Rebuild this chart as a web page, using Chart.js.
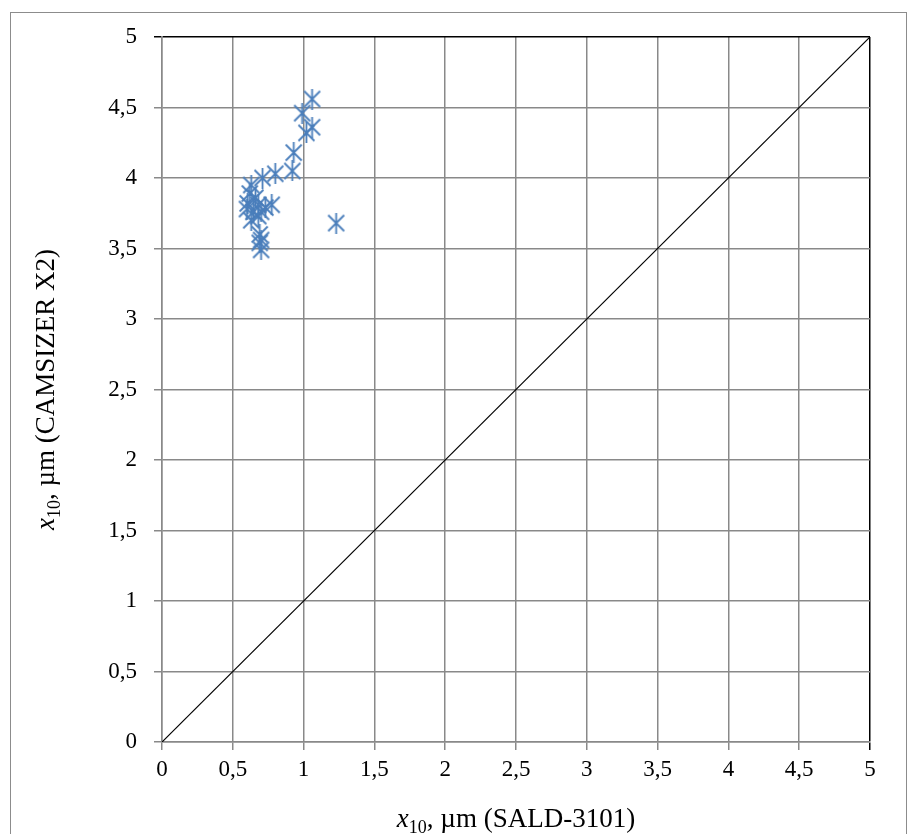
<!DOCTYPE html>
<html>
<head>
<meta charset="utf-8">
<script src="https://cdn.jsdelivr.net/npm/chart.js@4.4.1/dist/chart.umd.min.js"></script>
<style>
    body { margin: 0; background: #fff; overflow: hidden; }
    #frame { position: absolute; left: 10px; top: 12px; width: 895px; height: 900px; border: 1px solid #8c8c8c; }
    #bar { position: absolute; left: 0; top: 0; }
</style>
</head>
<body>
<div id="frame"></div>
<canvas id="bar" width="908" height="834"></canvas>
<script>
// x10 SALD-3101 vs x10 CAMSIZER X2
var xSald = [1.06, 0.99, 1.06, 1.02, 0.93, 0.92, 0.80, 0.71, 0.63, 0.62, 0.66, 0.605, 0.68, 0.60, 0.645, 0.70, 0.63, 0.68, 0.775, 0.73, 1.23, 0.69, 0.70, 0.69, 0.70];
var yCamsizer = [4.56, 4.46, 4.36, 4.32, 4.18, 4.05, 4.03, 4.00, 3.95, 3.89, 3.86, 3.82, 3.81, 3.78, 3.76, 3.76, 3.70, 3.73, 3.81, 3.79, 3.68, 3.60, 3.56, 3.54, 3.49];
var lineX = [0, 5];
var lineY = [0, 5];
var tickValues = [0, 0.5, 1, 1.5, 2, 2.5, 3, 3.5, 4, 4.5, 5];

var pts = [];
for (var i in xSald) {
    pts.push({x: xSald[i], y: yCamsizer[i]});
}
var diag = [];
for (var j in lineX) {
    diag.push({x: lineX[j], y: lineY[j]});
}

// excel style star marker: X with a vertical bar
var mark = document.createElement('canvas');
mark.width = 19;
mark.height = 21;
var mc = mark.getContext('2d');
mc.strokeStyle = '#4a7ebb';
mc.lineWidth = 1.8;
mc.beginPath();
mc.moveTo(1.5, 2.5); mc.lineTo(17.5, 18.5);
mc.moveTo(17.5, 2.5); mc.lineTo(1.5, 18.5);
mc.moveTo(9.5, 0); mc.lineTo(9.5, 21);
mc.stroke();

function gridColor(c) {
    return c.tick && c.tick.value === 5 ? '#000000' : '#898989';
}

function fmt(v) {
    return String(v).replace('.', ',');
}

var titles = {
    id: 'titles',
    afterDraw: function (chart) {
        var ctx = chart.ctx;
        var big = '27px "Liberation Serif"';
        var bigI = 'italic 27px "Liberation Serif"';
        var small = '18px "Liberation Serif"';

        function drawTitle(rest, cx, cy, rot) {
            ctx.save();
            ctx.translate(cx, cy);
            ctx.rotate(rot);
            ctx.fillStyle = '#000';
            ctx.textBaseline = 'alphabetic';
            ctx.textAlign = 'left';
            ctx.font = bigI; var w1 = ctx.measureText('x').width;
            ctx.font = small; var w2 = ctx.measureText('10').width;
            ctx.font = big; var w3 = ctx.measureText(rest).width;
            var x0 = -(w1 + w2 + w3) / 2;
            ctx.font = bigI; ctx.fillText('x', x0, 0);
            ctx.font = small; ctx.fillText('10', x0 + w1, 6);
            ctx.font = big; ctx.fillText(rest, x0 + w1 + w2, 0);
            ctx.restore();
        }
        var a = chart.chartArea;
        drawTitle(', µm (SALD-3101)', (a.left + a.right) / 2, 827, 0);
        drawTitle(', µm (CAMSIZER X2)', 54, (a.top + a.bottom) / 2, -Math.PI / 2);
    }
};

var ctx = document.getElementById('bar');
var chart = new Chart(ctx, {
    type: 'scatter',
    data: {
        datasets: [
            {
                label: 'x10',
                data: pts,
                pointStyle: mark,
                pointRadius: 9,
                pointHoverRadius: 9
            },
            {
                label: 'line',
                type: 'line',
                data: diag,
                borderColor: '#000000',
                borderWidth: 1.2,
                pointRadius: 0,
                fill: false
            }
        ]
    },
    plugins: [titles],
    options: {
        responsive: false,
        animation: false,
        events: [],
        layout: {padding: {left: 0, top: 37, right: 38, bottom: 0}},
        plugins: {legend: {display: false}, tooltip: {enabled: false}},
        scales: {
            x: {
                type: 'linear',
                min: 0,
                max: 5,
                afterFit: function (s) { s.height = 92; },
                afterBuildTicks: function (s) { s.ticks = tickValues.map(function (v) { return {value: v}; }); },
                border: {color: '#898989', width: 1.5},
                grid: {color: gridColor, lineWidth: 1.5, tickLength: 8},
                ticks: {
                    padding: 6,
                    color: '#000',
                    font: {family: 'Liberation Serif', size: 23},
                    maxRotation: 0,
                    callback: fmt
                }
            },
            y: {
                type: 'linear',
                min: 0,
                max: 5,
                afterFit: function (s) { s.width = 162; },
                afterBuildTicks: function (s) { s.ticks = tickValues.map(function (v) { return {value: v}; }); },
                border: {color: '#898989', width: 1.5},
                grid: {color: gridColor, lineWidth: 1.5, tickLength: 8},
                ticks: {
                    padding: 17,
                    color: '#000',
                    font: {family: 'Liberation Serif', size: 23},
                    callback: fmt
                }
            }
        }
    }
});
</script>
</body>
</html>
